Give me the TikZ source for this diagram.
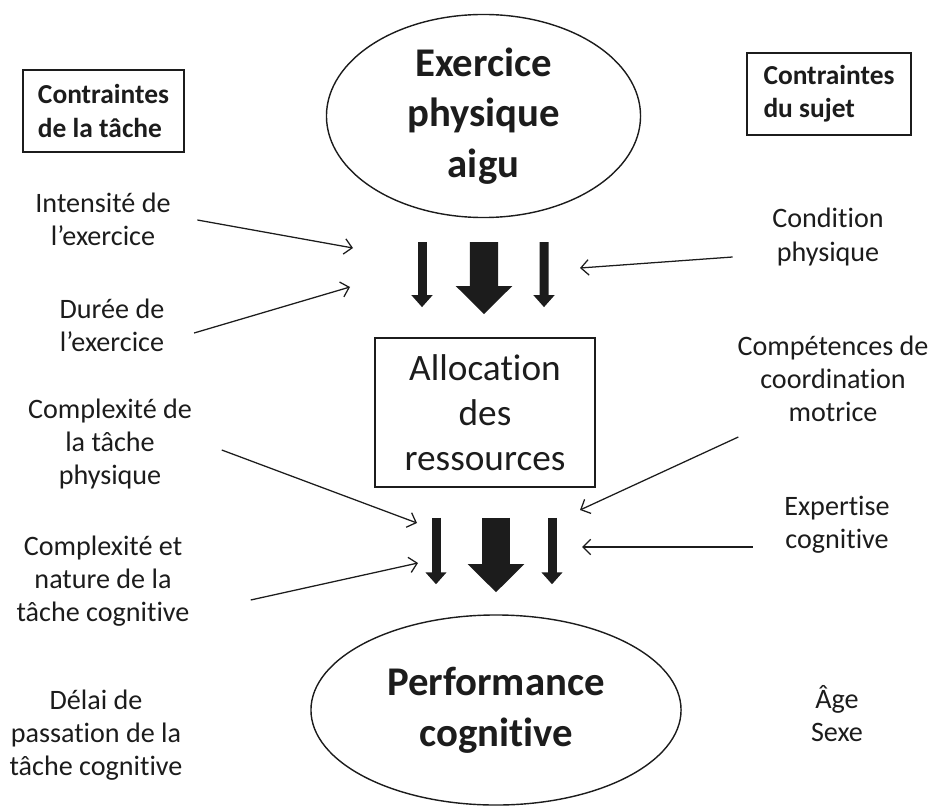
\documentclass[tikz,border=0pt]{standalone}
\usepackage{fontspec}
\setmainfont{Carlito}[Ligatures=NoCommon]
\usetikzlibrary{shapes.geometric,arrows.meta,calc}
\definecolor{diagramink}{HTML}{1C1C1C}

\begin{document}
\begin{tikzpicture}[
  x=0.025cm,
  y=-0.025cm,
  every node/.style={text=diagramink},
  sidetext/.style={align=center, inner sep=0pt, font=\fontsize{20}{23.5}\selectfont},
  framebox/.style={draw=diagramink, line width=1.3pt, align=left, inner sep=0pt,
    minimum height=2.05cm, font=\bfseries\fontsize{19.5}{23.5}\selectfont},
  bigoval/.style={ellipse, draw=diagramink, line width=1pt, inner sep=0pt, align=center,
    font=\bfseries\fontsize{29}{36}\selectfont},
  allocbox/.style={draw=diagramink, line width=1.2pt, inner sep=0pt, align=center,
    minimum width=5.5cm, minimum height=3.725cm, font=\fontsize{26.5}{32}\selectfont},
  thinlink/.style={diagramink, line width=0.9pt, -{Straight Barb[length=5.5pt,width=11pt]}},
  flowarrow/.style={diagramink, line width=6.4pt, -{Triangle[length=8.5pt,width=14.5pt]}},
  bigflowarrow/.style={diagramink, line width=20pt, -{Triangle[length=20pt,width=39pt]}}
]
  \useasboundingbox (0,0) rectangle (937,807);

  % central chain
  \node[bigoval, minimum width=7.85cm, minimum height=5.075cm] (exercise) at (483.5,116)
    {Exercice\\physique\\aigu};
  \node[allocbox] (alloc) at (485,412.5) {Allocation\\des\\ressources};
  \node[bigoval, minimum width=9.25cm, minimum height=4.75cm] (perf) at (496,710)
    {Performance\\cognitive};

  \draw[flowarrow] ($(exercise.south)+(-61.5,24)$) -- ($(alloc.north)+(-63,-30)$);
  \draw[bigflowarrow] ($(exercise.south)+(0.5,24)$) -- ($(alloc.north)+(-1,-23)$);
  \draw[flowarrow] ($(exercise.south)+(60.5,24)$) -- ($(alloc.north)+(59,-30)$);

  \draw[flowarrow] ($(alloc.south)+(-49,30)$) -- ($(perf.north)+(-60,-30)$);
  \draw[bigflowarrow] ($(alloc.south)+(11,30)$) -- ($(perf.north)+(0,-22)$);
  \draw[flowarrow] ($(alloc.south)+(67,30)$) -- ($(perf.north)+(56,-30)$);

  % task constraints (left)
  \node[framebox, minimum width=4.025cm] (taskbox) at (103.5,111) {Contraintes\\de la tâche};
  \node[sidetext] (intensity) at (103,219) {Intensité de\\l’exercice};
  \node[sidetext] (duration) at (112,325) {Durée de\\l’exercice};
  \node[sidetext] (physcomplex) at (110,444) {Complexité de\\la tâche\\physique};
  \node[sidetext] (cogncomplex) at (103,581) {Complexité et\\nature de la\\tâche cognitive};
  \node[sidetext] (delay) at (96,735) {Délai de\\passation de la\\tâche cognitive};

  % subject constraints (right)
  \node[framebox, minimum width=4.1cm] (subjectbox) at (829,94) {Contraintes\\du sujet};
  \node[sidetext] (fitness) at (828,237) {Condition\\physique};
  \node[sidetext] (motor) at (833,379) {Compétences de\\coordination\\motrice};
  \node[sidetext] (expertise) at (837,525) {Expertise\\cognitive};
  \node[sidetext] (agesex) at (837,714) {Âge\\Sexe};

  \coordinate (intensitytip) at (353,248);
  \coordinate (durationtip) at (350,287);
  \coordinate (fitnesstip) at (580,268);
  \coordinate (phystip) at (417,523);
  \coordinate (cogntip) at (418,563);
  \coordinate (motortip) at (580,510);
  \coordinate (expertisetip) at (582,547);

  \draw[thinlink] ($(intensity.east)+(26.5,1)$) -- (intensitytip);
  \draw[thinlink] ($(duration.east)+(29.5,8)$) -- (durationtip);
  \draw[thinlink] ($(physcomplex.east)+(29.5,6)$) -- (phystip);
  \draw[thinlink] ($(cogncomplex.east)+(61,19)$) -- (cogntip);
  \draw[thinlink] ($(fitness.west)+(-39.5,20)$) -- (fitnesstip);
  \draw[thinlink] ($(motor.west)+(1,58)$) -- (motortip);
  \draw[thinlink] ($(expertise.west)+(-31.5,22)$) -- (expertisetip);
\end{tikzpicture}
\end{document}
